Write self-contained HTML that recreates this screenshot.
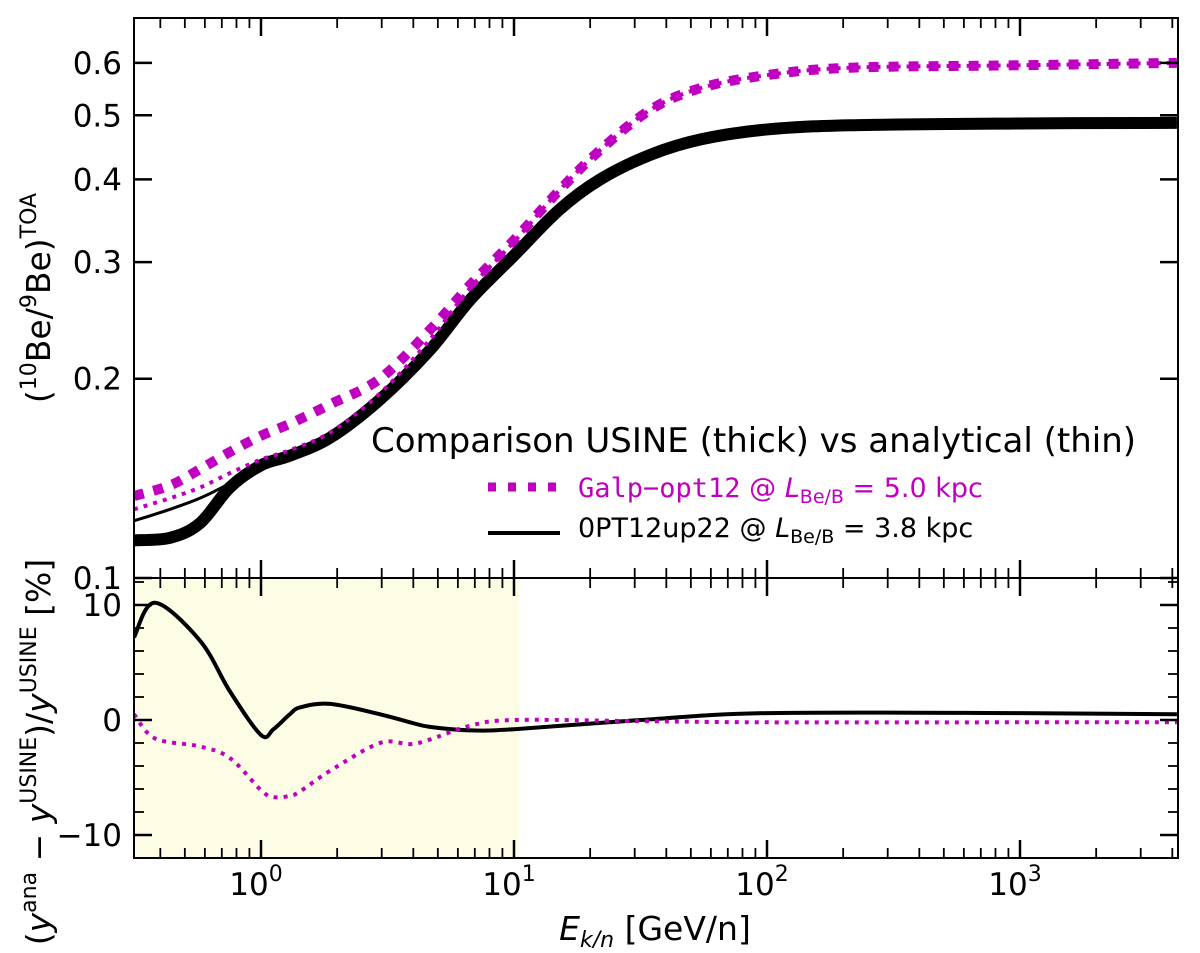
<!DOCTYPE html>
<html><head><meta charset="utf-8"><style>
body{margin:0;background:#fff}
svg{font-family:"DejaVu Sans","Liberation Sans",sans-serif}
</style></head><body>
<svg id="c" width="1200" height="948" viewBox="0 0 1200 948" xmlns="http://www.w3.org/2000/svg"></svg>
<script>
const energyTop=[0.315,0.437,0.574,0.753,1,1.30,1.88,2.95,4.65,6.7,10,15.1,21.9,34.7,55,100,214,1000,4170];
const usineOpt12=[0.114,0.115,0.121,0.137,0.148,0.153,0.163,0.186,0.221,0.263,0.307,0.36,0.40,0.436,0.46,0.476,0.483,0.486,0.487];
const anaOpt12=[0.122,0.127,0.132,0.139,0.148,0.153,0.163,0.186,0.221,0.263,0.307,0.36,0.40,0.436,0.46,0.476,0.483,0.486,0.487];
const usineGalp=[0.133,0.138,0.146,0.155,0.164,0.171,0.183,0.2,0.237,0.277,0.324,0.385,0.443,0.51,0.55,0.575,0.59,0.595,0.6];
const anaGalp=[0.127,0.132,0.137,0.144,0.151,0.156,0.166,0.19,0.229,0.274,0.322,0.385,0.443,0.51,0.55,0.575,0.59,0.595,0.6];
const energyBot=[0.315,0.381,0.574,0.753,1,1.12,1.30,1.43,1.88,2.95,3.88,4.65,6.7,10,31.6,100,1000,4170];
const relOpt12=[7.2,10.2,6.9,2.5,-1.3,-0.8,0.5,1.1,1.4,0.5,-0.2,-0.6,-0.9,-0.8,0,0.6,0.6,0.5];
const relGalp=[0.5,-1.6,-2.3,-3.3,-6.1,-6.7,-6.6,-6.2,-4.4,-2.0,-2.1,-1.7,-0.5,0,-0.1,-0.2,-0.2,-0.2];
const yTopTicks=[0.1,0.2,0.3,0.4,0.5,0.6];
const yBotTicks=[-10,0,10];
const xDecades=[0,1,2,3];

const NS="http://www.w3.org/2000/svg";
const svg=document.getElementById('c');
const L=134,R=1178,T=18,M=578,B=858;
const X=e=>261+253*Math.log10(e);
const YT=v=>578-662*Math.log10(v/0.1);
const YB=v=>720-11.5*v;
function el(tag,attrs,parent){const e=document.createElementNS(NS,tag);for(const k in attrs)e.setAttribute(k,attrs[k]);(parent||svg).appendChild(e);return e;}
function smooth(pts){let d=`M${pts[0][0]},${pts[0][1]}`;for(let i=0;i<pts.length-1;i++){const p0=pts[Math.max(0,i-1)],p1=pts[i],p2=pts[i+1],p3=pts[Math.min(pts.length-1,i+2)];d+=` C${p1[0]+(p2[0]-p0[0])/6},${p1[1]+(p2[1]-p0[1])/6} ${p2[0]-(p3[0]-p1[0])/6},${p2[1]-(p3[1]-p1[1])/6} ${p2[0]},${p2[1]}`;}return d;}
const defs=el('defs',{});
const cp1=el('clipPath',{id:'ct'},defs);el('rect',{x:L,y:T,width:R-L,height:M-T},cp1);
const cp2=el('clipPath',{id:'cb'},defs);el('rect',{x:L,y:M,width:R-L,height:B-M},cp2);

let sh=el('rect',{x:L,y:M,width:X(10.5)-L,height:B-M,fill:'#fdfde6'});



function line(xs,ys,fx,fy,clip,stroke,w,dash,name){
  const p=el('path',{d:smooth(xs.map((e,i)=>[fx(e),fy(ys[i])])),fill:'none',stroke,'stroke-width':w,'clip-path':`url(#${clip})`,'stroke-linejoin':'round'});
  if(dash)p.setAttribute('stroke-dasharray',dash);
  
  
}
line(energyTop,usineOpt12,X,YT,'ct','#000',12,null,'usine-opt12-line');
line(energyTop,anaOpt12,X,YT,'ct','#000',3,null,'analytical-opt12-line');
line(energyTop,usineGalp,X,YT,'ct','#c000c0',10,'10 10','usine-galp-line');
line(energyTop,anaGalp,X,YT,'ct','#c000c0',4,'4 6','analytical-galp-line');
line(energyBot,relOpt12,X,YB,'cb','#000',4,null,'rel-diff-opt12-line');
line(energyBot,relGalp,X,YB,'cb','#c000c0',4,'4 6','rel-diff-galp-line');

el('rect',{x:L,y:T,width:R-L,height:B-T,fill:'none',stroke:'#000','stroke-width':2});
el('line',{x1:L,x2:R,y1:M,y2:M,stroke:'#000','stroke-width':2});

function tick(x1,y1,x2,y2,w){el('line',{x1,y1,x2,y2,stroke:'#000','stroke-width':w});}
for(let d=-1;d<=3;d++){for(let m=1;m<10;m++){const e=m*Math.pow(10,d);const x=X(e);if(x<L||x>R)continue;const len=m===1?18:10,w=m===1?2.5:1.8;
  [T,M,B].forEach(y=>{if(y!==B)tick(x,y,x,y+len,w);if(y!==T)tick(x,y,x,y-len,w);});}}
xDecades.forEach(d=>{const t=el('text',{x:X(Math.pow(10,d))-5,y:895,'font-size':31,'text-anchor':'middle'});t.innerHTML=`10<tspan dy="-14" font-size="22">${d}</tspan>`;
  });
yTopTicks.forEach(v=>{const y=YT(v);tick(L,y,L+18,y,2.5);tick(R,y,R-18,y,2.5);
  const t=el('text',{x:L-12,y:y+11,'font-size':31,'text-anchor':'end'});t.textContent=v.toFixed(1);
  });
for(let v=-12;v<=12;v+=2){const y=YB(v);const maj=yBotTicks.includes(v);tick(L,y,L+(maj?18:10),y,maj?2.5:1.8);tick(R,y,R-(maj?18:10),y,maj?2.5:1.8);}
yBotTicks.forEach(v=>{const t=el('text',{x:L-12,y:YB(v)+11,'font-size':31,'text-anchor':'end'});t.textContent=v===-10?'\u221210':String(v);
  });
</script>
<svg style="position:absolute;left:0;top:0" width="1200" height="948" font-family="DejaVu Sans, Liberation Sans, sans-serif">
<text x="655" y="940" font-size="33" text-anchor="middle"><tspan font-style="italic">E</tspan><tspan font-style="italic" font-size="22" dy="7">k/n</tspan><tspan dy="-7"> [GeV/n]</tspan></text>
<text transform="translate(50,298) rotate(-90)" font-size="33" text-anchor="middle">(<tspan font-size="22" dy="-14">10</tspan><tspan dy="14">Be/</tspan><tspan font-size="22" dy="-14">9</tspan><tspan dy="14">Be)</tspan><tspan font-size="22" dy="-14">TOA</tspan></text>
<text transform="translate(50,752) rotate(-90)" font-size="33" text-anchor="middle">(<tspan font-style="italic">y</tspan><tspan font-size="22" dy="-14">ana</tspan><tspan dy="14"> − </tspan><tspan font-style="italic">y</tspan><tspan font-size="22" dy="-14">USINE</tspan><tspan dy="14">)/</tspan><tspan font-style="italic">y</tspan><tspan font-size="22" dy="-14">USINE</tspan><tspan dy="14"> [%]</tspan></text>
<text x="371" y="452" font-size="34">Comparison USINE (thick) vs analytical (thin)</text>
<line x1="488" y1="487" x2="560" y2="487" stroke="#c000c0" stroke-width="9" stroke-dasharray="8 12"/>
<text x="578" y="497" font-size="27" fill="#c000c0"><tspan font-family="DejaVu Sans Mono, Liberation Mono, monospace">Galp−opt12</tspan> @ <tspan font-style="italic">L</tspan><tspan font-size="19" dy="6">Be/B</tspan><tspan dy="-6"> = 5.0 kpc</tspan></text>
<line x1="488" y1="533" x2="560" y2="533" stroke="#000" stroke-width="4"/>
<text x="578" y="537" font-size="27">0PT12up22 @ <tspan font-style="italic">L</tspan><tspan font-size="19" dy="6">Be/B</tspan><tspan dy="-6"> = 3.8 kpc</tspan></text>
</svg>
</body></html>
